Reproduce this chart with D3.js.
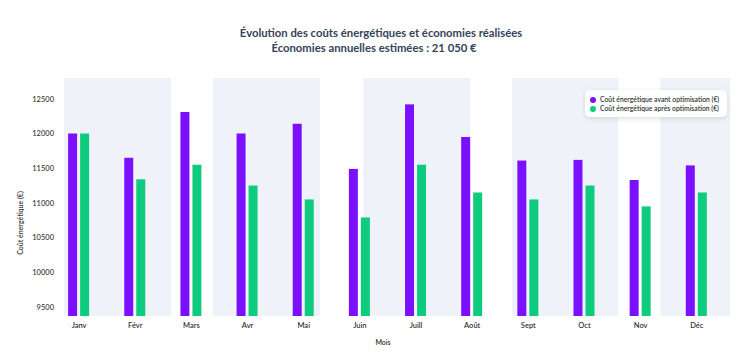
<!DOCTYPE html>
<html>
<head>
<meta charset="utf-8">
<script src="https://cdn.jsdelivr.net/npm/d3@7"></script>
<style>
  body { margin: 0; background: #fff; }
  svg text { font-family: Lato, "Noto Sans", sans-serif; }
</style>
</head>
<body>
<svg id="chart" width="750" height="363"></svg>
<script>
// data
var months = ["Janv", "Févr", "Mars", "Avr", "Mai", "Juin", "Juill", "Août", "Sept", "Oct", "Nov", "Déc"];
var avant = [12000, 11650, 12310, 12000, 12140, 11490, 12420, 11950, 11610, 11620, 11330, 11540];
var apres = [12000, 11340, 11550, 11250, 11050, 10790, 11550, 11150, 11050, 11250, 10950, 11150];
var yTicks = [9500, 10000, 10500, 11000, 11500, 12000, 12500];
// shaded background stripes, in month units
var stripes = [[-0.26, 1.65], [2.39, 4.30], [5.07, 6.97], [7.72, 9.61], [10.36, 11.6]];

var series = [
  {name: "Coût énergétique avant optimisation (€)", values: avant, color: "#7a10ff", off: -0.107},
  {name: "Coût énergétique après optimisation (€)", values: apres, color: "#0ecb7e", off: 0.107}
];

var svg = d3.select("#chart");
var plotL = 64, plotR = 730, plotT = 78, plotB = 316;

var x = d3.scaleLinear().domain([-0.26, 11.6]).range([plotL, plotR]);
var y = d3.scaleLinear().domain([9370, 12800]).range([plotB, plotT]);
var barW = x(0.16) - x(0);

// background stripes
svg.append("g").selectAll("rect")
  .data(stripes)
  .enter().append("rect")
  .attr("x", function(d) { return x(d[0]); })
  .attr("width", function(d) { return x(d[1]) - x(d[0]); })
  .attr("y", plotT)
  .attr("height", plotB - plotT)
  .attr("fill", "#eff2f8");

// bars
series.forEach(function(s) {
  svg.append("g").selectAll("rect")
    .data(s.values)
    .enter().append("rect")
    .attr("x", function(d, i) { return x(i + s.off) - barW / 2; })
    .attr("width", barW)
    .attr("y", function(d) { return y(d); })
    .attr("height", function(d) { return plotB - y(d); })
    .attr("fill", s.color);
});

// y axis
var yAxis = svg.append("g")
  .attr("transform", "translate(" + (plotL - 10) + ",0)")
  .call(d3.axisLeft(y).tickValues(yTicks).tickSize(0).tickFormat(d3.format("d")));
yAxis.select(".domain").remove();
yAxis.selectAll("text").attr("font-size", 7.5).attr("font-weight", 500).attr("fill", "#333").attr("x", 0);

// x axis
var xAxis = svg.append("g")
  .attr("transform", "translate(0," + plotB + ")")
  .call(d3.axisBottom(x).tickValues(d3.range(12)).tickSize(0).tickFormat(function(i) { return months[i]; }));
xAxis.select(".domain").remove();
xAxis.selectAll("text").attr("font-size", 7.5).attr("font-weight", 600).attr("fill", "#333").attr("y", 7).attr("dy", "0.71em");

// axis titles
svg.append("text")
  .attr("transform", "translate(23,223) rotate(-90)")
  .attr("text-anchor", "middle")
  .attr("font-size", 7)
  .attr("font-weight", 600)
  .attr("fill", "#333")
  .text("Coût énergétique (€)");

svg.append("text")
  .attr("x", 383).attr("y", 345)
  .attr("text-anchor", "middle")
  .attr("font-size", 7)
  .attr("font-weight", 600)
  .attr("fill", "#333")
  .text("Mois");

// title
var title = svg.append("text")
  .attr("text-anchor", "middle")
  .attr("font-size", 11.3)
  .attr("font-weight", 700)
  .attr("fill", "#35435a");
title.append("tspan").attr("x", 381).attr("y", 37).text("Évolution des coûts énergétiques et économies réalisées");
title.append("tspan").attr("x", 374).attr("y", 52).text("Économies annuelles estimées : 21 050 €");

// legend
var defs = svg.append("defs");
var f = defs.append("filter").attr("id", "shadow").attr("x", "-20%").attr("y", "-40%").attr("width", "140%").attr("height", "180%");
f.append("feDropShadow").attr("dx", 0).attr("dy", 1.5).attr("stdDeviation", 2.5).attr("flood-color", "#000").attr("flood-opacity", 0.12);

var legend = svg.append("g").attr("transform", "translate(585,90)");
legend.append("rect")
  .attr("width", 142).attr("height", 27)
  .attr("rx", 5)
  .attr("fill", "#fff")
  .attr("filter", "url(#shadow)");
var items = legend.selectAll("g.item")
  .data(series)
  .enter().append("g")
  .attr("class", "item")
  .attr("transform", function(d, i) { return "translate(0," + (10 + i * 9) + ")"; });
items.append("circle")
  .attr("cx", 8).attr("cy", 0).attr("r", 3)
  .attr("fill", function(d) { return d.color; });
items.append("text")
  .attr("x", 15).attr("y", 2.3)
  .attr("font-size", 6.8)
  .attr("font-weight", 600)
  .attr("fill", "#333")
  .text(function(d) { return d.name; });
</script>
</body>
</html>
